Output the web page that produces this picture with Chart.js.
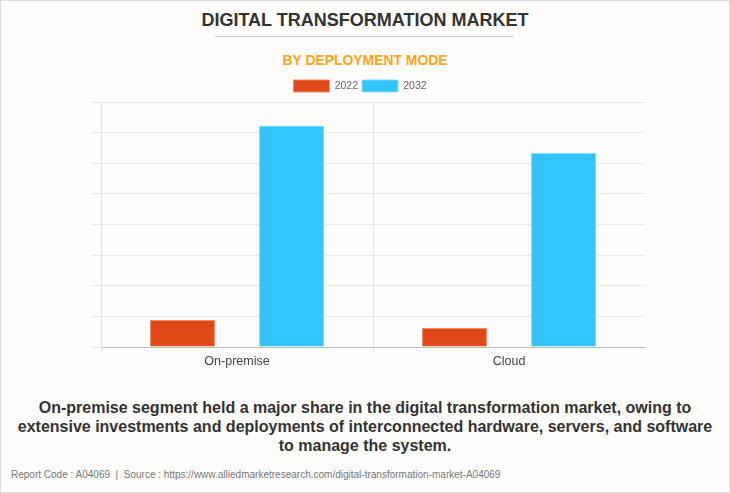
<!DOCTYPE html>
<html>
<head>
<meta charset="utf-8">
<script src="https://cdn.jsdelivr.net/npm/chart.js@4.4.1/dist/chart.umd.min.js"></script>
<style>
  html, body { margin: 0; padding: 0; }
  body { width: 730px; height: 493px; background: #fefdfc; position: relative; overflow: hidden; font-family: "Liberation Sans", Arial, sans-serif; }
  .frame { position: absolute; left: 0; top: 0; width: 728px; height: 491px; border: 1px solid #dedede; }
  #title { position: absolute; left: 0; width: 730px; top: 9px; text-align: center; font-weight: bold; font-size: 19px; color: #333; transform: scaleX(0.948); transform-origin: 365px 0; }
  #rule { position: absolute; left: 215px; width: 299px; top: 36px; height: 1px; background: #cccccc; }
  #subtitle { position: absolute; left: 0; width: 730px; top: 51px; text-align: center; font-weight: bold; font-size: 15px; color: #f9a51a; transform: scaleX(0.927); transform-origin: 365px 0; }
  #wrap { position: absolute; left: 0; top: 72px; width: 730px; height: 298px; }
  #caption { position: absolute; left: 10px; width: 710px; top: 398px; text-align: center; font-weight: bold; font-size: 16px; line-height: 19px; color: #333; }
  #footer { position: absolute; left: 11px; top: 468px; font-size: 11px; color: #777; white-space: nowrap; transform: scaleX(0.91); transform-origin: 0 0; }
</style>
</head>
<body>
<div class="frame"></div>
<div id="title">DIGITAL TRANSFORMATION MARKET</div>
<div id="rule"></div>
<div id="subtitle">BY DEPLOYMENT MODE</div>
<div id="wrap"><canvas id="graphCanvas"></canvas></div>
<div id="caption">On-premise segment held a major share in the digital transformation market, owing to extensive investments and deployments of interconnected hardware, servers, and software to manage the system.</div>
<div id="footer">Report Code : A04069 &nbsp;|&nbsp; Source : https://www.alliedmarketresearch.com/digital-transformation-market-A04069</div>

<script>
// values (axis has no labels, units of one gridline)
const categories = ['On-premise', 'Cloud'];
const years = ['2022', '2032'];
const values2022 = [0.88, 0.62];
const values2032 = [7.23, 6.34];
const yTicksMax = 8;

window.onload = function () {
    showGraph();
};

function showGraph()
{
    let graphTarget = document.getElementById('graphCanvas');

    let chartdata = {
        labels: categories,
        datasets: [
            {
                label: years[0],
                data: values2022,
                backgroundColor: '#e04a16',
                borderColor: '#ec8a6a',
                borderWidth: 1,
                categoryPercentage: 0.8,
                barPercentage: 0.6
            },
            {
                label: years[1],
                data: values2032,
                backgroundColor: '#32c5fd',
                borderColor: '#8adcfc',
                borderWidth: 1,
                categoryPercentage: 0.8,
                barPercentage: 0.6
            }
        ]
    };

    new Chart(graphTarget, {
        type: 'bar',
        data: chartdata,
        options: {
            responsive: true,
            maintainAspectRatio: false,
            animation: false,
            // left padding + y width puts the plot edge at x=101 and centres the legend like the original
            layout: { padding: { left: 75, right: 85, top: 4, bottom: 0 } },
            plugins: {
                tooltip: { enabled: false },
                legend: {
                    display: true,
                    position: 'top',
                    labels: {
                        boxWidth: 36,
                        boxHeight: 12,
                        padding: 4,
                        color: '#666',
                        font: { family: '"Liberation Sans", Arial, sans-serif', size: 10.5 }
                    }
                }
            },
            scales: {
                x: {
                    grid: {
                        offset: true,
                        color: (ctx) => ctx.type === 'tick' ? '#e4e4e4' : 'rgba(0,0,0,0)',
                        tickLength: 6
                    },
                    border: { display: true, color: '#bdbdbd' },
                    ticks: {
                        color: '#444',
                        padding: 1,
                        font: { family: '"Liberation Sans", Arial, sans-serif', size: 12.5 }
                    }
                },
                y: {
                    min: 0,
                    max: yTicksMax,
                    ticks: { display: false, stepSize: 1 },
                    grid: { color: '#e8e8e8', tickLength: 9 },
                    border: { display: true, color: '#e0e0e0' },
                    afterFit: function (scale) { scale.width = 26; }
                }
            }
        }
    });
}
</script>
</body>
</html>
